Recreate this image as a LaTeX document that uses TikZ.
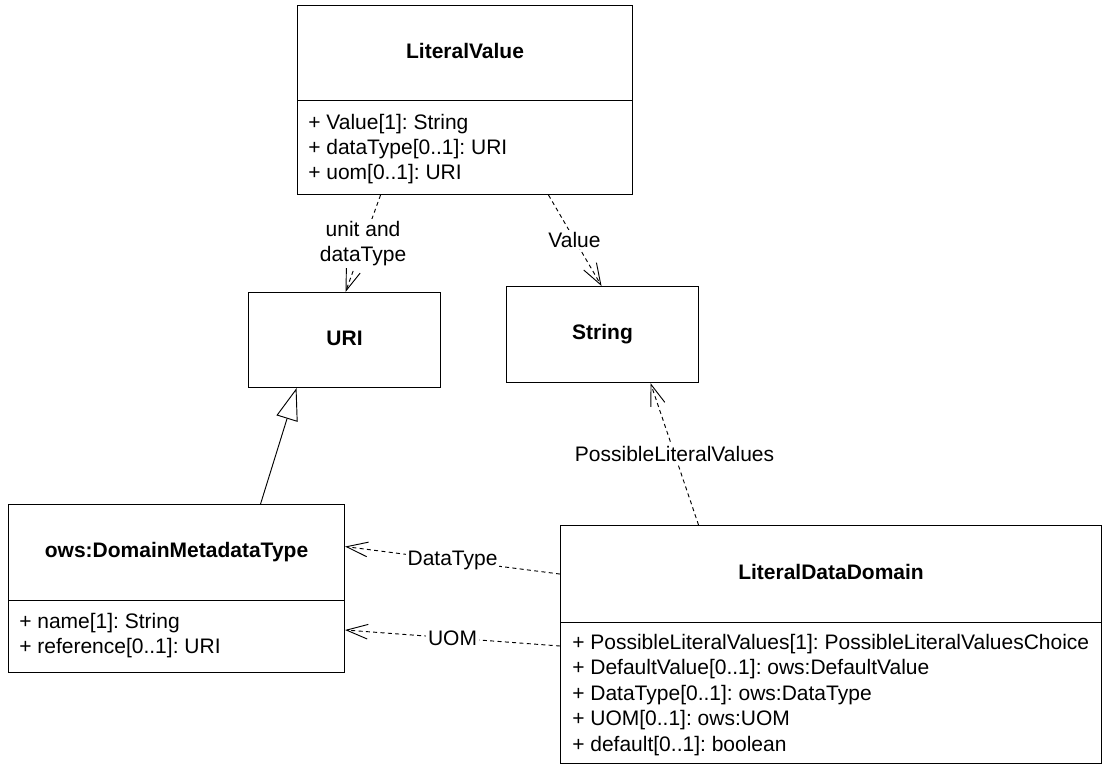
\documentclass[tikz,border=0pt]{standalone}
\usepackage{fontspec}
\setmainfont{Liberation Sans}
\usetikzlibrary{arrows.meta,calc}
\frenchspacing
\begin{document}
\begin{tikzpicture}[x=0.75pt,y=-0.75pt,
  mk/.style 2 args={minimum width=#1*0.75pt, minimum height=#2*0.75pt},
  cls/.style={draw=black, line width=0.8pt, inner sep=0pt, anchor=north west,
    font=\bfseries\fontsize{15.75pt}{19pt}\selectfont, text height=11.3pt, text depth=3.3pt},
  attr/.style={font=\fontsize{15.75pt}{19pt}\selectfont, anchor=west, inner sep=0pt,
    text height=11.3pt, text depth=3.3pt},
  lbl/.style={font=\fontsize{15.75pt}{19pt}\selectfont, fill=white, inner sep=1.5pt, align=center},
  dep/.style={line width=0.7pt, dash pattern=on 3pt off 2.5pt,
    -{Straight Barb[length=16pt,width=11pt,line width=0.7pt]}},
  gen/.style={line width=0.7pt, -{Triangle[open,length=24pt,width=16.5pt,line width=0.7pt]}}
]
\useasboundingbox (0,0) rectangle (1102,765);

% LiteralValue
\node[cls, mk={335}{95}] (lvh) at (297,5) {LiteralValue};
\node[cls, mk={335}{94}] (lvb) at (297,100) {};
\node[attr] (lva1) at (308,124) {+ Value[1]: String};
\node[attr] (lva2) at (308,149) {+ dataType[0..1]: URI};
\node[attr] (lva3) at (308,174) {+ uom[0..1]: URI};

% URI and String
\node[cls, mk={192}{95}] (uri) at (248,292) {URI};
\node[cls, mk={192}{96}] (str) at (506,286) {String};

% ows:DomainMetadataType
\node[cls, mk={336}{96}] (oh) at (8,504) {ows:DomainMetadataType};
\node[cls, mk={336}{72}] (ob) at (8,600) {};
\node[attr] (oa1) at (19,623) {+ name[1]: String};
\node[attr] (oa2) at (19,648) {+ reference[0..1]: URI};

% LiteralDataDomain
\node[cls, mk={541}{97}] (lddh) at (560,525) {LiteralDataDomain};
\node[cls, mk={541}{141}] (lddb) at (560,622) {};
\node[attr] (la1) at (572,644) {+ PossibleLiteralValues[1]: PossibleLiteralValuesChoice};
\node[attr] (la2) at (572,669.5) {+ DefaultValue[0..1]: ows:DefaultValue};
\node[attr] (la3) at (572,695) {+ DataType[0..1]: ows:DataType};
\node[attr] (la4) at (572,720.5) {+ UOM[0..1]: ows:UOM};
\node[attr] (la5) at (572,746) {+ default[0..1]: boolean};

% connectors
\draw[dep] ($(lvb.south)+(-84.5,0)$) -- ($(uri.north)+(1,0)$)
  node[lbl, pos=0.5] (l1) {unit and\\dataType};
\draw[dep] ($(lvb.south)+(83.5,0)$) -- ($(str.north)+(-1,0)$)
  node[lbl, pos=0.49] (l2) {Value};
\draw[dep] ($(lddh.north)+(-132.5,0)$) -- ($(str.south)+(48,0)$)
  node[lbl, pos=0.5] (l3) {PossibleLiteralValues};
\draw[dep] (lddh.west) -- ($(oh.east)+(0,-6)$)
  node[lbl, pos=0.5] (l4) {DataType};
\draw[dep] ($(lddb.north west)+(0,24)$) -- ($(ob.north east)+(0,30)$)
  node[lbl, pos=0.5] (l5) {UOM};
\draw[gen] ($(oh.north)+(84,0)$) -- ($(uri.south)+(-48,0)$);
\end{tikzpicture}
\end{document}
